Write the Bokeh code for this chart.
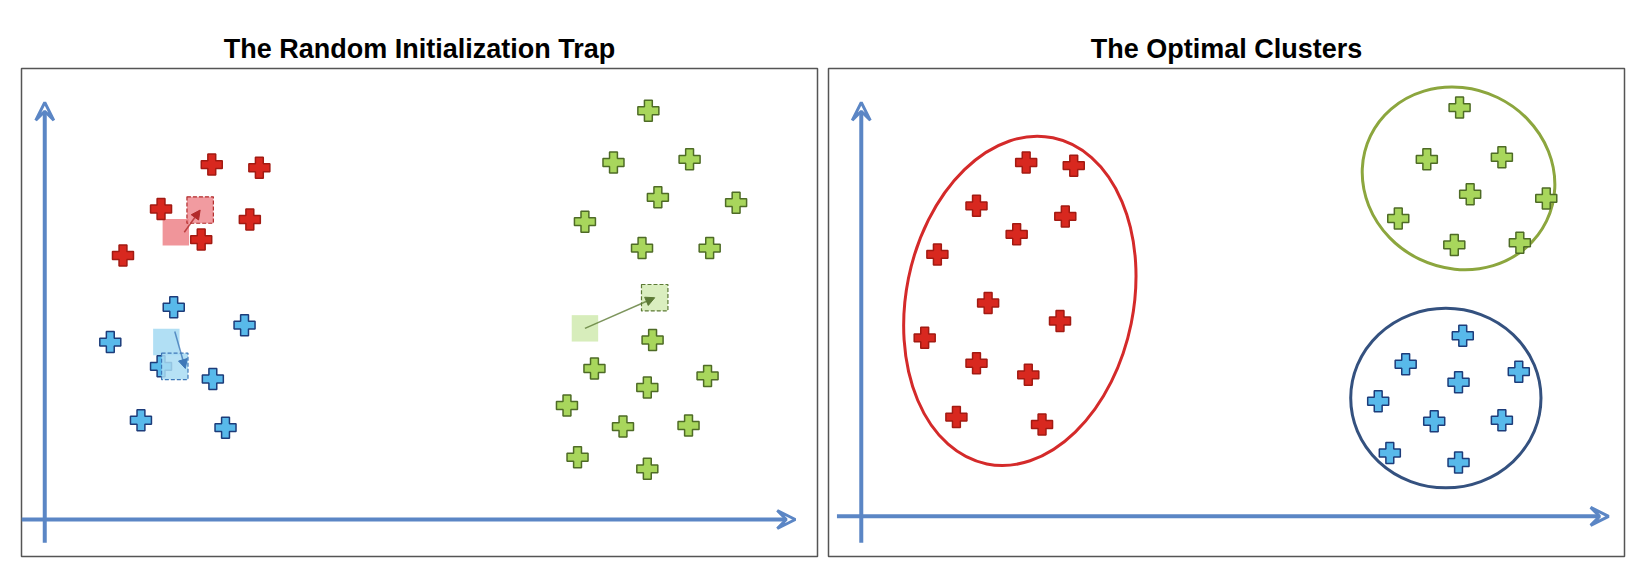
from bokeh.plotting import figure
from bokeh.layouts import row
from bokeh.models import Arrow, VeeHead, NormalHead
from bokeh.embed import file_html
from bokeh.resources import INLINE

# panel coordinates (pixels from panel's left / bottom)
red1_x = [180, 225, 132, 216, 170, 96]
red1_y = [371, 368, 329, 319, 300, 285]
blue1_x = [144, 211, 84, 132, 181, 113, 193]
blue1_y = [236, 219, 203, 180, 168, 129, 122]
green1_x = [593, 560, 632, 602, 676, 533, 587, 651, 597, 542, 649, 592, 516, 569, 631, 526, 592]
green1_y = [422, 373, 376, 340, 335, 317, 292, 292, 205, 178, 171, 160, 143, 123, 124, 94, 83]
# centroids: start (light) and end (dashed)
cen_start_x = [146, 137, 533]
cen_start_y = [307, 203, 216]
cen_end_x = [169, 145, 599]
cen_end_y = [328, 180, 245]
cen_fill = ["#ee8a8f", "#a9dcf3", "#d3ebb4"]
cen_line = ["#b22a2a", "#3f78b8", "#5c7a35"]

red2_x = [187, 232, 140, 224, 178, 103, 151, 219, 91, 140, 189, 121, 202]
red2_y = [373, 370, 332, 322, 305, 286, 240, 223, 207, 183, 172, 132, 125]
green2_x = [597, 566, 637, 607, 679, 539, 592, 654]
green2_y = [425, 376, 378, 343, 339, 320, 295, 297]
blue2_x = [600, 546, 653, 596, 520, 573, 637, 531, 596]
blue2_y = [209, 182, 175, 165, 147, 128, 129, 98, 89]
ell_x = [181, 596, 584]
ell_y = [242, 358, 150]
ell_w = [215, 185, 180]
ell_h = [315, 170, 170]
ell_a = [-0.2, -0.45, 0.0]
ell_c = ["#d42a2a", "#8ca63e", "#34517f"]

AX = "#5b86c5"
S = 1.058
W, H = 753, 462


def panel(title, left, right, vx, hy, hx0, hx1):
    p = figure(width=int(W * S) + left + right, height=int(H * S) + 68 + 10,
               x_range=(0, W), y_range=(0, H), output_backend="svg",
               toolbar_location=None, min_border_left=left, min_border_right=right,
               min_border_top=68, min_border_bottom=10, title=title)
    p.axis.visible = False
    p.grid.visible = False
    p.outline_line_color = "#555555"
    p.outline_line_width = 1.5
    p.title.align = "center"
    p.title.text_font = "Liberation Sans"
    p.title.text_font_size = "27px"
    p.title.text_font_style = "bold"
    p.title.text_color = "#000000"
    p.title.offset = 8
    p.add_layout(Arrow(end=VeeHead(size=18, line_color=AX, line_width=3, fill_color=None, fill_alpha=0),
                       x_start=vx, y_start=13, x_end=vx, y_end=430, line_color=AX, line_width=4))
    p.add_layout(Arrow(end=VeeHead(size=18, line_color=AX, line_width=3, fill_color=None, fill_alpha=0),
                       x_start=hx0, y_start=hy, x_end=hx1, y_end=hy, line_color=AX, line_width=4))
    return p


def pluses(p, xs, ys, fill, line):
    p.scatter(xs, ys, marker="plus", size=21, fill_color=fill, line_color=line, line_width=1.5)


p1 = panel("The Random Initialization Trap", 21, 4, 22, 35, 0, 732)
for i in range(3):
    p1.rect(cen_start_x[i], cen_start_y[i], 25, 25, fill_color=cen_fill[i], line_color=None, fill_alpha=0.9)
pluses(p1, red1_x, red1_y, "#d8281f", "#a21a12")
pluses(p1, blue1_x, blue1_y, "#58b9ea", "#1d3c7a")
pluses(p1, green1_x, green1_y, "#a8d65c", "#4e6b26")
for i in range(3):
    p1.rect(cen_end_x[i], cen_end_y[i], 25, 25, fill_color=cen_fill[i], fill_alpha=0.85,
            line_color=cen_line[i], line_dash="4 2", line_width=1.2)
    p1.add_layout(Arrow(end=NormalHead(size=9, fill_color=cen_line[i], line_color=cen_line[i]),
                        x_start=cen_start_x[i] + (8 if i < 2 else 0), y_start=cen_start_y[i] + (0 if i != 1 else 10),
                        x_end=cen_end_x[i] + (0 if i != 1 else 10), y_end=cen_end_y[i] + (0 if i != 1 else -2),
                        line_color=cen_line[i], line_width=1.5, line_alpha=0.8))

p2 = panel("The Optimal Clusters", 7, 6, 31, 38, 8, 738)
p2.ellipse(ell_x, ell_y, width=ell_w, height=ell_h, angle=ell_a, fill_color=None,
           line_color=ell_c, line_width=3)
pluses(p2, red2_x, red2_y, "#d8281f", "#a21a12")
pluses(p2, green2_x, green2_y, "#a8d65c", "#4e6b26")
pluses(p2, blue2_x, blue2_y, "#58b9ea", "#1d3c7a")

p = row(p1, p2, spacing=0)
open("out.html", "w").write(file_html(p, INLINE))
